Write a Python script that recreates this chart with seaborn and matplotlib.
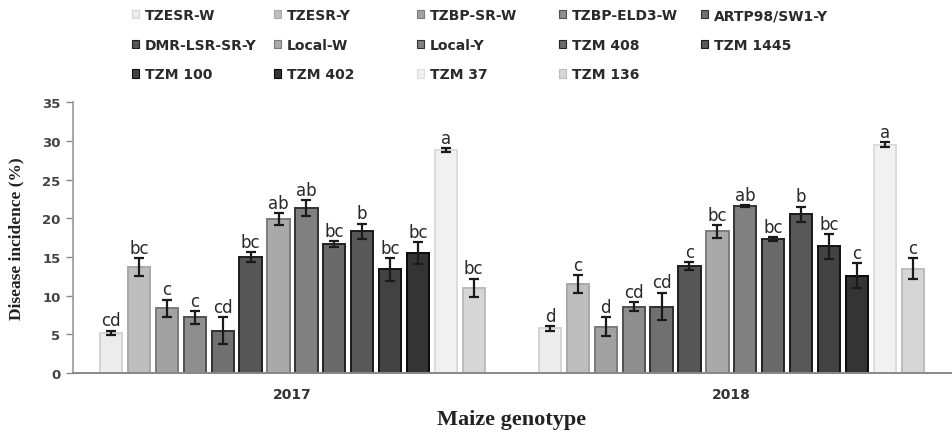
import pandas as pd
import seaborn as sns
import matplotlib.pyplot as plt

genotypes = ['TZESR-W', 'TZESR-Y', 'TZBP-SR-W', 'TZBP-ELD3-W', 'ARTP98/SW1-Y',
             'DMR-LSR-SR-Y', 'Local-W', 'Local-Y', 'TZM 408', 'TZM 1445',
             'TZM 100', 'TZM 402', 'TZM 37', 'TZM 136']
years = ['2017', '2018']

inc_2017 = [5.2, 13.7, 8.4, 7.2, 5.5, 15.0, 19.9, 21.3, 16.7, 18.3, 13.4, 15.5, 28.8, 11.0]
err_2017 = [0.3, 1.2, 1.1, 0.8, 1.7, 0.6, 0.8, 1.0, 0.4, 1.0, 1.5, 1.4, 0.3, 1.2]
lett_2017 = ['cd', 'bc', 'c', 'c', 'cd', 'bc', 'ab', 'ab', 'bc', 'b', 'bc', 'bc', 'a', 'bc']

inc_2018 = [5.8, 11.5, 6.0, 8.6, 8.6, 13.8, 18.3, 21.6, 17.3, 20.5, 16.4, 12.6, 29.5, 13.5]
err_2018 = [0.3, 1.2, 1.2, 0.6, 1.8, 0.5, 0.8, 0.1, 0.3, 1.0, 1.6, 1.6, 0.3, 1.4]
lett_2018 = ['d', 'c', 'd', 'cd', 'cd', 'c', 'bc', 'ab', 'bc', 'b', 'bc', 'c', 'a', 'c']

face = ['#ececec', '#bebebe', '#a2a2a2', '#8e8e8e', '#707070', '#565656', '#a9a9a9',
        '#808080', '#6a6a6a', '#585858', '#424242', '#343434', '#f1f1f1', '#d6d6d6']
edge = ['#d4d4d4', '#a8a8a8', '#7a7a7a', '#505050', '#303030', '#1e1e1e', '#7c7c7c',
        '#333333', '#222222', '#1a1a1a', '#111111', '#0a0a0a', '#dcdcdc', '#bcbcbc']

df = pd.DataFrame({
    'year': ['2017'] * 14 + ['2018'] * 14,
    'genotype': genotypes * 2,
    'incidence': inc_2017 + inc_2018,
})
errs = {'2017': err_2017, '2018': err_2018}
letters = {'2017': lett_2017, '2018': lett_2018}

sns.set_style('white')
plt.rcParams['font.family'] = ['DejaVu Sans']

fig = plt.figure(figsize=(9.52, 4.35), dpi=100)
ax = fig.add_axes([0.0767, 0.140, 0.922, 0.623])

sns.barplot(data=df, x='year', y='incidence', hue='genotype', order=years,
            hue_order=genotypes, palette=face, width=0.89, gap=0.2,
            errorbar=None, legend=False, ax=ax)

# snapshot the bar containers before errorbar() adds its own
bar_groups = list(ax.containers)
for i, cont in enumerate(bar_groups):
    for j, bar in enumerate(cont):
        bar.set_edgecolor(edge[i])
        bar.set_linewidth(1.4)
        yr = years[j]
        xc = bar.get_x() + bar.get_width() / 2
        h = bar.get_height()
        e = errs[yr][i]
        ax.errorbar(xc, h, yerr=e, fmt='none', ecolor='#1a1a1a', elinewidth=1.6,
                    capsize=3.5, capthick=1.6, zorder=3)
        ax.text(xc, h + e + 0.15, letters[yr][i], ha='center', va='bottom',
                fontsize=12, color='#2a2a2a', family='DejaVu Sans')

ax.set_xlim(-0.5, 1.5)
ax.set_ylim(0, 35)
ax.set_yticks(range(0, 36, 5))
ax.set_yticklabels([str(v) for v in range(0, 36, 5)], fontsize=9.5,
                   fontweight='bold', color='#444444')
ax.set_xticks([0, 1])
ax.set_xticklabels(years, fontsize=10, fontweight='bold', color='#333333')
ax.set_xticks([0.5], minor=True)
ax.tick_params(axis='x', which='major', length=0, pad=10)
ax.tick_params(axis='x', which='minor', length=4, width=1.2, color='#666666',
               direction='out')
ax.tick_params(axis='y', length=5, width=1, color='#888888', direction='out',
               left=True, pad=4)

for side in ['top', 'right']:
    ax.spines[side].set_visible(False)
ax.spines['left'].set_color('#999999')
ax.spines['bottom'].set_color('#888888')
ax.spines['left'].set_linewidth(1.2)
ax.spines['bottom'].set_linewidth(1.4)

ax.set_ylabel('Disease incidence (%)', family='Liberation Serif', fontsize=12.5,
              fontweight='bold', color='#222222')
ax.set_xlabel('Maize genotype', family='Liberation Serif', fontsize=16,
              fontweight='bold', color='#222222')
ax.yaxis.set_label_coords(-0.055, 0.5)
ax.xaxis.set_label_coords(0.5, -0.133)

# legend laid out in five columns, filled row by row
handles = [plt.Rectangle((0, 0), 1, 1, facecolor=face[k], edgecolor=edge[k], linewidth=0.8)
           for k in range(len(genotypes))]
col_x = [0.1387, 0.2878, 0.438, 0.5872, 0.7363]
for c in range(5):
    idx = [k for k in range(c, len(genotypes), 5)]
    leg = fig.legend([handles[k] for k in idx], [genotypes[k] for k in idx],
                     loc='upper left', bbox_to_anchor=(col_x[c], 0.979),
                     frameon=False, borderpad=0, borderaxespad=0,
                     handlelength=0.5, handleheight=0.55,
                     handletextpad=0.42, labelspacing=1.12,
                     prop={'family': 'DejaVu Sans', 'weight': 'bold', 'size': 10})
    for t in leg.get_texts():
        t.set_color('#2a2a2a')

fig.savefig('out.png', dpi=100)
